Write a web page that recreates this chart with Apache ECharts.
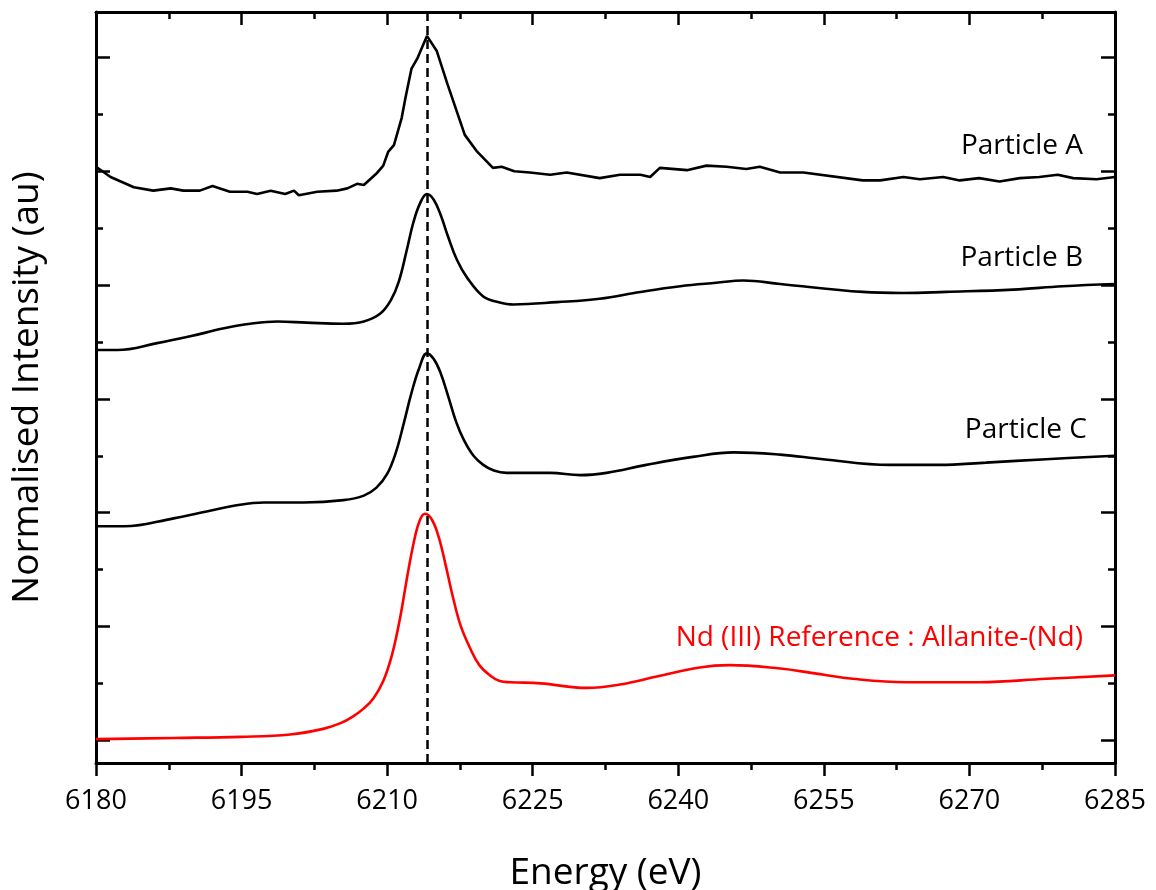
<!DOCTYPE html>
<html>
<head>
<meta charset="utf-8">
<script src="https://cdn.jsdelivr.net/npm/echarts@6/dist/echarts.min.js"></script>
<style>
html,body{margin:0;padding:0;background:#fff}
#main{width:1156px;height:890px}
</style>
</head>
<body>
<div id="main"></div>
<script>
// energy (eV), normalised intensity (offset per spectrum)
var particleA = [[6180,5.04],[6181.5,4.95],[6183.9,4.86],[6185.9,4.83],[6187.7,4.85],[6189.0,4.83],[6190.7,4.83],[6192.0,4.87],[6193.8,4.82],[6195.6,4.82],[6196.6,4.80],[6198.0,4.83],[6199.5,4.80],[6200.4,4.83],[6200.9,4.79],[6202.8,4.82],[6204.8,4.83],[6205.9,4.85],[6206.9,4.89],[6207.6,4.88],[6208.9,4.98],[6209.6,5.05],[6210.1,5.17],[6210.7,5.23],[6211.5,5.47],[6211.9,5.65],[6212.5,5.90],[6213.1,5.99],[6214.1,6.19],[6215.1,6.06],[6216.2,5.77],[6218.0,5.32],[6219.2,5.18],[6220.9,5.03],[6221.8,5.04],[6223.1,5.00],[6224.7,4.99],[6226.8,4.97],[6228.5,4.99],[6231.9,4.94],[6234.0,4.97],[6236.1,4.97],[6237.1,4.95],[6238.1,5.03],[6240.9,5.01],[6242.9,5.05],[6245.0,5.04],[6247.0,5.02],[6248.4,5.04],[6250.5,4.99],[6252.9,4.99],[6259.0,4.92],[6260.8,4.92],[6263.2,4.95],[6264.9,4.93],[6267.3,4.95],[6269.0,4.92],[6271.0,4.94],[6273.1,4.91],[6275.2,4.94],[6277.2,4.95],[6279.1,4.97],[6280.7,4.94],[6283.1,4.93],[6285,4.95]];
var particleB = [[6180,3.43],[6182.2,3.43],[6186.3,3.49],[6189.7,3.55],[6193.2,3.62],[6195.9,3.66],[6198.7,3.68],[6201.7,3.67],[6205.5,3.66],[6207.6,3.68],[6209.3,3.75],[6210.4,3.87],[6211.2,4.03],[6212.0,4.30],[6212.7,4.55],[6213.4,4.72],[6214.1,4.80],[6214.8,4.75],[6215.5,4.62],[6216.3,4.42],[6217.2,4.22],[6218.2,4.07],[6219.9,3.90],[6221.5,3.85],[6223.0,3.83],[6227.5,3.85],[6231.9,3.88],[6236.1,3.94],[6240.2,3.99],[6243.9,4.02],[6246.7,4.04],[6250.5,4.01],[6259.0,3.94],[6263.2,3.93],[6267.6,3.94],[6274.5,3.96],[6279.6,3.99],[6285,4.01]];
var particleC = [[6180,1.88],[6182.9,1.88],[6188.0,1.95],[6191.4,2.01],[6194.2,2.06],[6197.3,2.09],[6200.0,2.09],[6201.4,2.09],[6205.5,2.11],[6207.6,2.15],[6208.9,2.22],[6210.0,2.34],[6210.9,2.53],[6211.7,2.78],[6212.5,3.05],[6213.3,3.27],[6214.1,3.40],[6214.8,3.35],[6215.5,3.23],[6216.3,3.02],[6217.1,2.80],[6217.9,2.64],[6218.9,2.50],[6219.9,2.42],[6221.0,2.37],[6222.3,2.35],[6226.8,2.35],[6229.9,2.33],[6232.6,2.35],[6236.7,2.42],[6241.5,2.49],[6245.7,2.53],[6250.5,2.51],[6254.9,2.47],[6261.8,2.42],[6266.9,2.42],[6271.7,2.44],[6277.9,2.47],[6285,2.50]];
var allanite = [[6180,0.01],[6188.0,0.02],[6194.9,0.03],[6200.0,0.05],[6203.4,0.10],[6205.2,0.15],[6206.5,0.21],[6207.6,0.28],[6208.6,0.37],[6209.6,0.52],[6210.5,0.75],[6211.3,1.06],[6212.2,1.50],[6212.9,1.80],[6213.4,1.94],[6213.9,1.99],[6214.6,1.94],[6215.3,1.79],[6216.0,1.55],[6216.8,1.25],[6217.6,1.00],[6218.6,0.80],[6219.5,0.66],[6220.6,0.57],[6221.6,0.52],[6222.7,0.51],[6225.8,0.50],[6230.6,0.46],[6234.0,0.49],[6237.8,0.56],[6242.2,0.64],[6245.3,0.66],[6250.5,0.63],[6253.9,0.59],[6258.0,0.54],[6263.5,0.51],[6271.0,0.51],[6277.9,0.54],[6285,0.57]];

var names = ['Particle A', 'Particle B', 'Particle C', 'Nd (III) Reference : Allanite-(Nd)'];
var labelAt = [[6281.7, 5.22], [6281.7, 4.24], [6282.1, 2.73], [6281.7, 0.90]];
var peakEnergy = 6214.1;

var FONT = 'Open Sans';
var chart = echarts.init(document.getElementById('main'));

function frameAxis(pos, grid) {
  return {
    type: 'value', gridIndex: grid, position: pos, min: -0.2, max: 6.4,
    axisLine: {show: true, onZero: false, lineStyle: {color: '#000', width: 3}},
    axisTick: {show: false}, axisLabel: {show: false}, splitLine: {show: false}
  };
}
function tickAxis(pos) {
  return {
    type: 'value', gridIndex: 1, position: pos, min: 0, max: 6, interval: 1,
    axisLine: {show: false, onZero: false},
    axisTick: {show: true, inside: true, length: 14, lineStyle: {color: '#000', width: 2.5}},
    minorTick: {show: true, splitNumber: 2, length: 7, lineStyle: {color: '#000', width: 2.5}},
    axisLabel: {show: false}, splitLine: {show: false}
  };
}

function spectrum(data, i, color, smooth) {
  return {
    type: 'line', xAxisIndex: 0, yAxisIndex: 0, data: data,
    symbol: 'none', smooth: smooth,
    lineStyle: {color: color, width: 2.6},
    markPoint: {
      symbol: 'circle', symbolSize: 0, silent: true,
      data: [{coord: labelAt[i]}],
      label: {show: true, position: 'left', distance: 0, formatter: names[i],
        color: color, fontSize: 28, fontFamily: FONT}
    }
  };
}

var series = [
  spectrum(particleA, 0, '#000', false),
  spectrum(particleB, 1, '#000', 0.4),
  spectrum(particleC, 2, '#000', 0.4),
  spectrum(allanite, 3, '#ff0000', 0.4)
];
series[3].markLine = {
  silent: true, symbol: ['none', 'none'],
  label: {show: false},
  lineStyle: {color: '#000', width: 2.5, type: [9, 5]},
  data: [{xAxis: peakEnergy}]
};

option = {
  backgroundColor: '#fff',
  animation: false,
  grid: [
    {left: 96, right: 41, top: 12, bottom: 127, outerBoundsMode: 'none', containLabel: false},
    {left: 96, right: 41, top: 57.5, bottom: 149.7, outerBoundsMode: 'none', containLabel: false}
  ],
  xAxis: [
    {
      type: 'value', gridIndex: 0, position: 'bottom', min: 6180, max: 6285, interval: 15,
      name: 'Energy (eV)', nameLocation: 'middle', nameGap: 92,
      nameTextStyle: {fontSize: 37, color: '#000', fontFamily: FONT},
      axisLine: {onZero: false, lineStyle: {color: '#000', width: 3}},
      axisTick: {inside: false, length: 13, lineStyle: {color: '#000', width: 2.5}},
      minorTick: {show: true, splitNumber: 2, length: 7, lineStyle: {color: '#000', width: 2.5}},
      axisLabel: {fontSize: 27, color: '#000', margin: 25, fontFamily: FONT,
        formatter: function (v) { return String(v); }},
      splitLine: {show: false}
    },
    {
      type: 'value', gridIndex: 0, position: 'top', min: 6180, max: 6285, interval: 15,
      axisLine: {onZero: false, lineStyle: {color: '#000', width: 3}},
      axisTick: {inside: true, length: 13, lineStyle: {color: '#000', width: 2.5}},
      minorTick: {show: true, splitNumber: 2, length: 7, lineStyle: {color: '#000', width: 2.5}},
      axisLabel: {show: false},
      splitLine: {show: false}
    },
    {type: 'value', gridIndex: 1, min: 6180, max: 6285, show: false}
  ],
  yAxis: [
    Object.assign(frameAxis('left', 0), {
      name: 'Normalised Intensity (au)', nameLocation: 'middle', nameGap: 50,
      nameTextStyle: {fontSize: 37, color: '#000', fontFamily: FONT}
    }),
    frameAxis('right', 0),
    tickAxis('left'),
    tickAxis('right')
  ],
  series: series
};

chart.setOption(option, true);
</script>
</body>
</html>
